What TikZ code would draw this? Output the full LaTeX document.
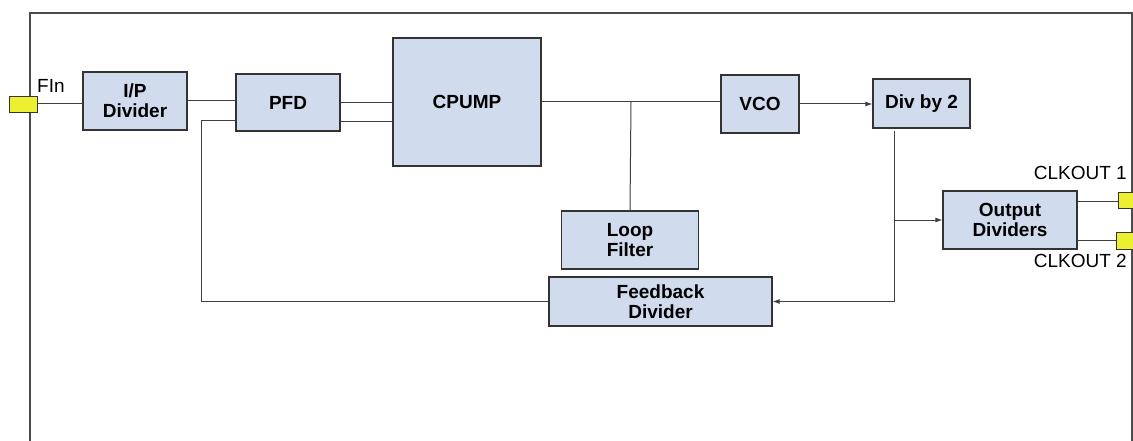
\documentclass[tikz,border=0pt]{standalone}
\usepackage{fontspec}
\setmainfont{Liberation Sans}
\usetikzlibrary{arrows.meta}
\definecolor{boxfill}{RGB}{208,220,238}
\definecolor{padfill}{RGB}{236,240,48}
\definecolor{wire}{RGB}{64,64,64}

\begin{document}
\begin{tikzpicture}[x=1pt,y=-1pt,>={Latex[length=7pt,width=5pt]},
    block/.style={draw=black!80,fill=boxfill,line width=1.1pt,inner sep=0pt,
                  align=center,font=\fontsize{19}{20}\selectfont\bfseries},
    pinpad/.style={draw=black!80,fill=padfill,line width=0.8pt,inner sep=0pt},
    link/.style={draw=wire,line width=1pt},
    pinlabel/.style={font=\fontsize{19}{20}\selectfont,inner sep=0pt}]
    \useasboundingbox (0,0) rectangle (1133,441);

    % outer frame
    \draw[draw=black!70,line width=1.1pt] (30,441) -- (30,13) -- (1132,13) -- (1132,441);

    \node[block,minimum width=104pt,minimum height=58pt]  (ipdiv)  at (135,101)    {I/P\\Divider};
    \node[block,minimum width=104pt,minimum height=57pt]  (pfd)    at (288,102.5)  {PFD};
    \node[block,minimum width=148pt,minimum height=128pt] (cpump)  at (467,102)    {CPUMP};
    \node[block,minimum width=78pt,minimum height=58pt]   (vco)    at (760,104)    {VCO};
    \node[block,minimum width=97pt,minimum height=49pt]   (div2)   at (921.5,103.5) {Div by 2};
    \node[block,minimum width=134pt,minimum height=58pt]  (outdiv) at (1010,220)   {Output\\Dividers};
    \node[block,minimum width=137pt,minimum height=58pt]  (loop)   at (630,240)    {Loop\\Filter};
    \node[block,minimum width=223pt,minimum height=49pt]  (fbdiv)  at (660.5,301.5) {Feedback\\Divider};

    % pins
    \node[pinpad,minimum width=28pt,minimum height=16pt]  (fin)  at (23,104)    {};
    \node[pinpad,minimum width=18pt,minimum height=16pt]  (clk1) at (1127,200)  {};
    \node[pinpad,minimum width=20pt,minimum height=17pt]  (clk2) at (1126,240.5) {};
    \node[pinlabel,anchor=base west] (finlbl)  at (37,93)    {FIn};
    \node[pinlabel,anchor=base east] (clk1lbl) at (1127,179) {CLKOUT 1};
    \node[pinlabel,anchor=base east] (clk2lbl) at (1127,267) {CLKOUT 2};

    \coordinate (fbin)  at ([yshift=-18pt]pfd.west);
    \coordinate (split) at (631,102);
    \coordinate (tap)   at (894,131);

    \draw[link] (fin.east) -- (fin.east -| ipdiv.west);
    \draw[link] (ipdiv.east) -- (ipdiv.east -| pfd.west);
    \draw[link] (pfd.east) -- (pfd.east -| cpump.west);
    \draw[link] ([yshift=-19pt]pfd.east) -- ([yshift=-19pt]pfd.east -| cpump.west);
    \draw[link] (cpump.east) -- (cpump.east -| vco.west);
    \draw[link] (split) -- (loop.north);
    \draw[link,->] (vco.east) -- (vco.east -| div2.west);
    \draw[link,->] (tap) |- (fbdiv.east);
    \draw[link,->] (tap |- outdiv.west) -- (outdiv.west);
    \draw[link] (fbdiv.west) -| ([xshift=-34pt]fbin) -- (fbin);
    \draw[link] ([yshift=19pt]outdiv.east) -- ([yshift=19pt]outdiv.east -| clk1.west);
    \draw[link] ([yshift=-20pt]outdiv.east) -- ([yshift=-20pt]outdiv.east -| clk2.west);
\end{tikzpicture}
\end{document}
